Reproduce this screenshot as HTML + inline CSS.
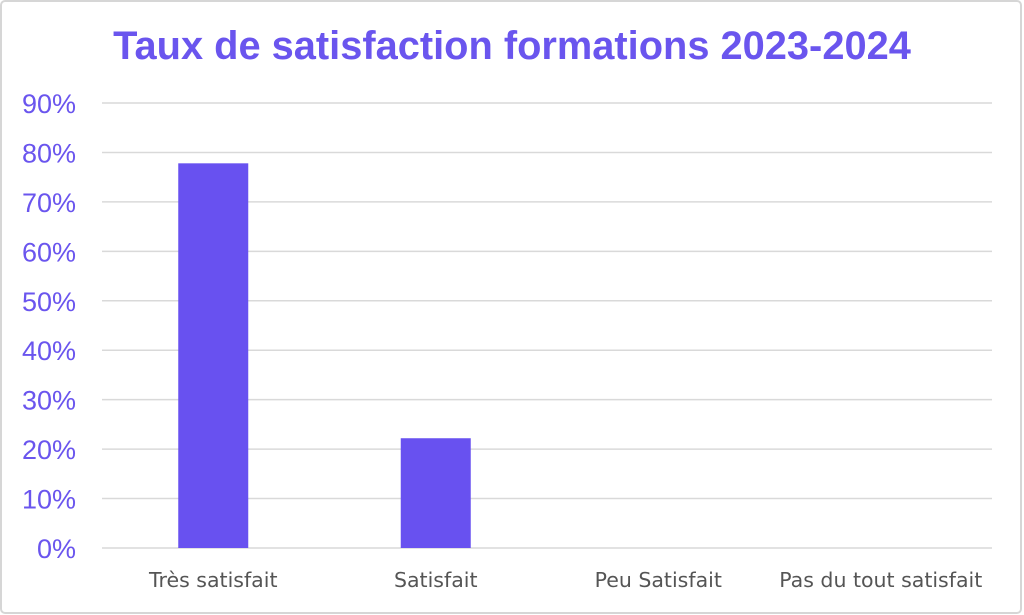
<!DOCTYPE html>
<html><head><meta charset="utf-8"><style>
html,body{margin:0;padding:0;background:#fff;}
svg{display:block;}
</style></head><body>
<svg id="chart" width="1024" height="615" viewBox="0 0 1024 615" xmlns="http://www.w3.org/2000/svg">
<rect x="1" y="1" width="1020" height="612" rx="4" fill="#fff" stroke="#d6d6d6" stroke-width="2"/>
<text x="512" y="59" text-anchor="middle" font-family="Liberation Sans, sans-serif" font-weight="bold" font-size="39.8" fill="#6a55ee">Taux de satisfaction formations 2023-2024</text>
<g id="grid"></g><g id="bars"></g><g id="labels"></g>
</svg>
<script>
const categories = ["Très satisfait","Satisfait","Peu Satisfait","Pas du tout satisfait"];
const values = [77.8, 22.2, 0, 0];
const ticks = [0,10,20,30,40,50,60,70,80,90];
const tickLabels = ["0%","10%","20%","30%","40%","50%","60%","70%","80%","90%"];

const NS="http://www.w3.org/2000/svg";
const x0=102, x1=992, y0=548, yTop=103, vMax=90;
const y=v=>y0-(v/vMax)*(y0-yTop);
const bandW=(x1-x0)/categories.length;
const xc=i=>x0+bandW*(i+0.5);
function mk(tag,attrs,parent){const e=document.createElementNS(NS,tag);for(const k in attrs)e.setAttribute(k,attrs[k]);parent.appendChild(e);return e;}
const grid=document.getElementById('grid'),bars=document.getElementById('bars'),labels=document.getElementById('labels');
ticks.forEach((t,i)=>{
  const l=mk('line',{x1:x0,x2:x1,y1:y(t),y2:y(t),stroke:'#d9d9d9','stroke-width':1.5},grid);
  
  
  const tx=mk('text',{x:76,y:y(t)+10,'text-anchor':'end','font-family':'Liberation Sans, sans-serif','font-size':27,fill:'#6a55ee'},labels);
  tx.textContent=tickLabels[i];
  
  
});
categories.forEach((c,i)=>{
  const bw=70;
  const r=mk('rect',{x:xc(i)-bw/2,y:y(values[i]),width:bw,height:y0-y(values[i]),fill:'#6851f0'},bars);
  
  
  const tx=mk('text',{x:xc(i),y:587,'text-anchor':'middle','font-family':'DejaVu Sans, Liberation Sans, sans-serif','font-size':20.5,fill:'#555'},labels);
  tx.textContent=c;
  
  
});
</script>
</body></html>
